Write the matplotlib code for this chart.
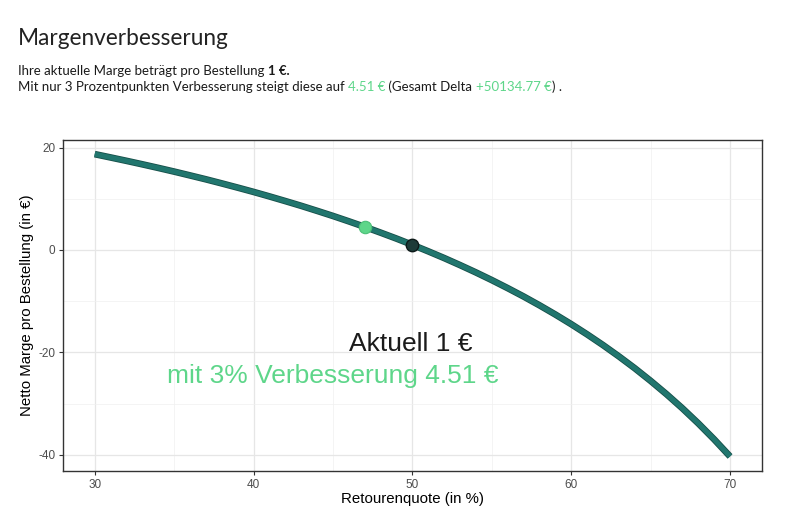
import matplotlib
matplotlib.use("Agg")
import matplotlib.pyplot as plt
import matplotlib.patheffects as pe
from matplotlib.text import Annotation

plt.rcParams["axes.unicode_minus"] = False

# Data
retourenquote = [30, 31, 32, 33, 34, 35, 36, 37, 38, 39, 40, 41, 42, 43, 44, 45,
                 46, 47, 48, 49, 50, 51, 52, 53, 54, 55, 56, 57, 58, 59, 60, 61,
                 62, 63, 64, 65, 66, 67, 68, 69, 70]
netto_marge = [18.72, 18.07, 17.41, 16.73, 16.03, 15.31, 14.56, 13.80, 13.00, 12.18,
               11.34, 10.46, 9.55, 8.62, 7.64, 6.64, 5.59, 4.51, 3.38, 2.22,
               1.00, -0.27, -1.58, -2.96, -4.39, -5.89, -7.46, -9.09, -10.81, -12.61,
               -14.50, -16.49, -18.58, -20.79, -23.11, -25.58, -28.18, -30.94, -33.88,
               -37.01, -40.34]
aktuell_x, aktuell_y = 50, 1.00
besser_x, besser_y = 47, 4.51
x_ticks = [30, 40, 50, 60, 70]
y_ticks = [-40, -20, 0, 20]

GREEN = "#5ed68a"
DARK = "#1b1b1b"
TEAL = "#21766e"

fig = plt.figure(figsize=(7.87, 5.24), dpi=100)
ax = fig.add_axes([0.080, 0.101, 0.888, 0.632])

ax.plot(retourenquote, netto_marge, color=TEAL, lw=3.6, solid_capstyle="butt",
        path_effects=[pe.Stroke(linewidth=4.8, foreground="#174f49"), pe.Normal()], zorder=3)
ax.scatter([besser_x], [besser_y], s=80, color=GREEN, edgecolor="#4cbf78", linewidth=0.8, zorder=4)
ax.scatter([aktuell_x], [aktuell_y], s=80, color="#1d3b38", edgecolor="#0d1a19", linewidth=1.0, zorder=4)

ax.text(53.8, -18.4, "Aktuell 1 €", ha="right", va="center", fontsize=19,
        color=DARK, family="Liberation Sans")
ax.text(55.4, -24.6, "mit 3% Verbesserung 4.51 €", ha="right", va="center", fontsize=19,
        color=GREEN, family="Liberation Sans")

ax.set_xlim(28.0, 72.0)
ax.set_ylim(-43.2, 21.5)
ax.set_xticks(x_ticks)
ax.set_yticks(y_ticks)
ax.set_xticks([35, 45, 55, 65], minor=True)
ax.set_yticks([-30, -10, 10], minor=True)
ax.grid(which="major", color="#e6e6e6", lw=0.9)
ax.grid(which="minor", color="#f0f0f0", lw=0.5)
ax.set_axisbelow(True)
for s in ax.spines.values():
    s.set_color("#333333")
    s.set_linewidth(1.0)
ax.tick_params(which="major", length=3, pad=2.5, color="#333333", labelsize=8.5, labelcolor="#4d4d4d")
ax.tick_params(which="minor", length=0)
for lab in ax.get_xticklabels() + ax.get_yticklabels():
    lab.set_family("Liberation Sans")
ax.set_xlabel("Retourenquote (in %)", fontsize=10.8, family="Liberation Sans")
ax.set_ylabel("Netto Marge pro Bestellung (in €)", fontsize=10.8, family="Liberation Sans")
ax.xaxis.set_label_coords(0.5, -0.063)
ax.yaxis.set_label_coords(-0.041, 0.5)

# Title and subtitle
fig.text(18 / 787, 1 - 45 / 524, "Margenverbesserung", fontsize=16.3, family="Lato",
         color="#222222", va="baseline", ha="left")


def chain(parts, x0, y0):
    prev = fig.text(x0, y0, parts[0][0], fontsize=9.5, family="Lato", color=parts[0][1],
                    fontweight=parts[0][2], va="baseline", ha="left")
    for txt, col, fw in parts[1:]:
        a = Annotation(txt, xy=(1, 0), xycoords=prev, xytext=(0, 0), textcoords="offset points",
                       fontsize=9.5, family="Lato", color=col, fontweight=fw,
                       va="bottom", ha="left")
        fig.add_artist(a)
        prev = a


chain([("Ihre aktuelle Marge beträgt pro Bestellung ", DARK, "normal"),
       ("1 €.", DARK, "bold")], 18 / 787, 1 - 75 / 524)
chain([("Mit nur 3 Prozentpunkten Verbesserung steigt diese auf ", DARK, "normal"),
       ("4.51 €", GREEN, "normal"),
       (" (Gesamt Delta ", DARK, "normal"),
       ("+50134.77 €", GREEN, "normal"),
       (") .", DARK, "normal")], 18 / 787, 1 - 91 / 524)

fig.savefig("out.png", dpi=100)
